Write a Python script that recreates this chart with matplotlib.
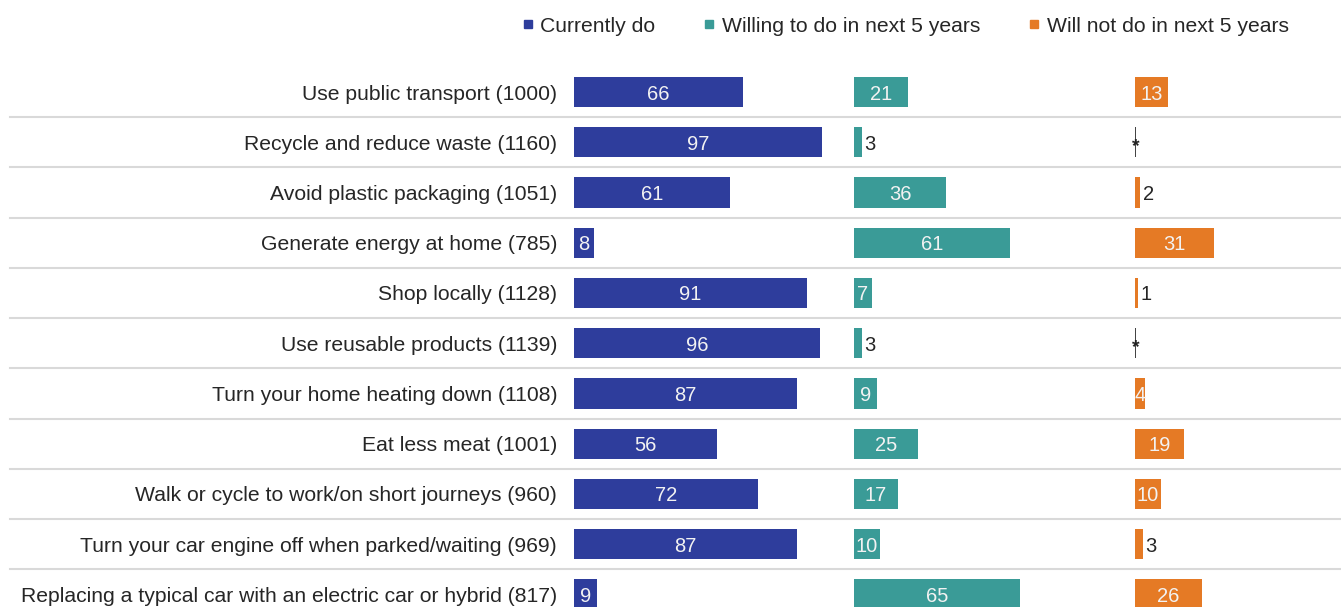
import matplotlib
matplotlib.use("Agg")
import matplotlib.pyplot as plt
from matplotlib.lines import Line2D

plt.rcParams['font.family'] = ['Liberation Sans', 'DejaVu Sans']

categories = [
    "Use public transport (1000)",
    "Recycle and reduce waste (1160)",
    "Avoid plastic packaging (1051)",
    "Generate energy at home (785)",
    "Shop locally (1128)",
    "Use reusable products (1139)",
    "Turn your home heating down (1108)",
    "Eat less meat (1001)",
    "Walk or cycle to work/on short journeys (960)",
    "Turn your car engine off when parked/waiting (969)",
    "Replacing a typical car with an electric car or hybrid (817)",
]
series_names = ["Currently do", "Willing to do in next 5 years", "Will not do in next 5 years"]
currently_do = [66, 97, 61, 8, 91, 96, 87, 56, 72, 87, 9]
willing = [21, 3, 36, 61, 7, 3, 9, 25, 17, 10, 65]
will_not = [13, 0.4, 2, 31, 1, 0.4, 4, 19, 10, 3, 26]
will_not_labels = ["13", "*", "2", "31", "1", "*", "4", "19", "10", "3", "26"]

colors = ["#2E3D9C", "#3A9B97", "#E57A25"]
star_color = "#444444"
text_color = "#262626"

W, H = 1341, 607
fig = plt.figure(figsize=(W / 100, H / 100), dpi=100)
ax = fig.add_axes([0, 0, 1, 1])

PX_PER_UNIT = 2.56
X0 = 574
ROW0 = 92
ROW_H = 50.25
ax.set_xlim(-X0 / PX_PER_UNIT, (W - X0) / PX_PER_UNIT)
ax.set_ylim((H - ROW0) / ROW_H, -ROW0 / ROW_H)
ax.axis("off")

offsets = [0, 280 / PX_PER_UNIT, 561 / PX_PER_UNIT]
all_series = [currently_do, willing, will_not]
all_labels = [[str(v) for v in currently_do], [str(v) for v in willing], will_not_labels]

ypos = list(range(len(categories)))

# separators
for i in range(len(categories) - 1):
    ax.plot([(10 - X0) / PX_PER_UNIT, (W - X0) / PX_PER_UNIT], [i + 0.5, i + 0.5],
            color="#d9d9d9", lw=1.5, zorder=0)

handles = []
for s, (vals, labs, off) in enumerate(zip(all_series, all_labels, offsets)):
    bar_colors = [star_color if l == "*" else colors[s] for l in labs]
    ax.barh(ypos, vals, left=off, height=0.6, color=bar_colors, zorder=2)
    for y, v, l in zip(ypos, vals, labs):
        if l == "*":
            ax.text(off + v / 2, y + 0.08, "*", ha="center", va="center",
                    fontsize=14, fontweight="bold", color="#222222", zorder=3)
        elif v >= 4:
            ax.text(off + v / 2, y, l, ha="center", va="center_baseline",
                    fontsize=14.5, color="#f2f2f2", zorder=3)
        else:
            ax.text(off + v + 2.5 / PX_PER_UNIT, y, l, ha="left", va="center_baseline",
                    fontsize=14.5, color=text_color, zorder=3)
    handles.append(Line2D([], [], marker="s", linestyle="none", markersize=6,
                          markerfacecolor=colors[s], markeredgecolor=colors[s]))

for y, c in zip(ypos, categories):
    ax.text(-17 / PX_PER_UNIT, y, c, ha="right", va="center_baseline",
            fontsize=15.2, color=text_color)

fig.legend(handles, series_names, loc="center", bbox_to_anchor=(905.5 / W, 1 - 26 / H),
           ncol=3, frameon=False, fontsize=15.2, handlelength=0.5, handletextpad=0.35,
           columnspacing=2.3, labelcolor=text_color)

fig.savefig("out.png", dpi=100, facecolor="white")
